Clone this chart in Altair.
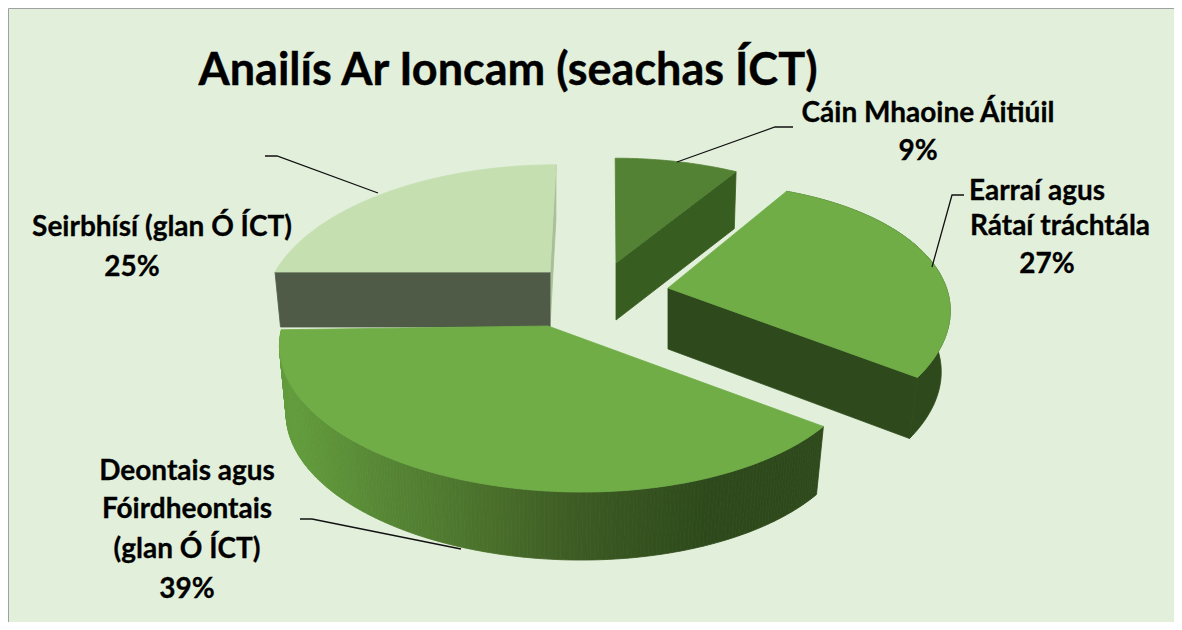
import math
import altair as alt
import pandas as pd

# ---- values
categories = ["Cáin Mhaoine Áitiúil", "Earraí agus Rátaí tráchtála", "Deontais agus Fóirdheontais (glan Ó ÍCT)", "Seirbhísí (glan Ó ÍCT)"]
shares = [9, 27, 39, 25]
title_text = "Anailís Ar Ioncam (seachas ÍCT)"
label_lines = ["Cáin Mhaoine Áitiúil", "9%", "Earraí agus", "Rátaí tráchtála", "27%",
               "Seirbhísí (glan Ó ÍCT)", "25%", "Deontais agus", "Fóirdheontais", "(glan Ó ÍCT)", "39%"]

# ---- layout / style
label_cx = [928, 918, 1037, 1060, 1047, 162, 132, 187, 187, 187, 187]
label_cy = [114, 152, 192, 227, 265, 228, 268, 472, 510, 550, 590]
BG = "#E2EFDA"
# perspective of each exploded slice: centre, axes, shear, tilt, depth
persp = {
    0: dict(cx=616, cy=263, a=273, b=131, k=.25, m=0, r=0, s=1, d=57, sc=.985, fill="#548235", cut="#385D20"),
    1: dict(cx=668, cy=288, a=264, b=129, k=.25, m=.033, r=-12, s=0, d=61, sc=.968, fill="#70AD47", cut="#2E4A1C"),
    2: dict(cx=548, cy=326, a=285, b=136, k=.18, m=.069, r=-4, s=15, d=68, sc=.975, fill="#70AD47", cut="#2E4A1C"),
    3: dict(cx=550, cy=272, a=275, b=134, k=.25, m=0, r=0, s=-7.5, d=55, sc=.98, fill="#C5DFB1", cut="#4F5A47"),
}
stops = [(292, (0x62, 0x9C, 0x3C)), (343, (0x5C, 0x90, 0x38)), (415, (0x53, 0x80, 0x33)), (488, (0x4A, 0x70, 0x2B)),
         (561, (0x3F, 0x5E, 0x25)), (634, (0x36, 0x53, 0x20)), (706, (0x2E, 0x4A, 0x1C))]


def side_colour(x):
    if x <= stops[0][0]:
        c = stops[0][1]
    elif x >= stops[-1][0]:
        c = stops[-1][1]
    else:
        for (x0, c0), (x1, c1) in zip(stops, stops[1:]):
            if x0 <= x <= x1:
                t = (x - x0) / (x1 - x0)
                c = tuple(c0[i] + t * (c1[i] - c0[i]) for i in range(3))
                break
    return "#%02X%02X%02X" % tuple(int(round(v)) for v in c)


def proj(p, phi, rad=1.0, bottom=False):
    X, Y = rad * math.sin(phi), -rad * math.cos(phi)
    D = 1 - p["k"] * Y - p["m"] * X
    sc = p["sc"] if bottom else 1
    x = p["cx"] + sc * (p["a"] * X + p["s"] * Y) / D
    y = p["cy"] + (p["b"] * Y + p["r"] * X) / D + (p["d"] if bottom else 0)
    return x, y


rows, pid = [], [0]


def add_poly(pts, fill):
    for i, (x, y) in enumerate(list(pts) + [pts[0]]):
        rows.append(dict(poly=pid[0], i=i, x=x, y=y, fill=fill))
    pid[0] += 1


# slice angles from the shares, clockwise from twelve o'clock
ang = {}
acc = 0
for idx, v in enumerate(shares):
    ang[idx] = (acc / 100 * 2 * math.pi, (acc + v) / 100 * 2 * math.pi)
    acc += v


def arc(p, a0, a1, bottom=False, n=90):
    return [proj(p, a0 + (a1 - a0) * j / n, 1.0, bottom) for j in range(n + 1)]


# Seirbhísí
p = persp[3]; a0, a1 = ang[3]
add_poly([proj(p, a1), proj(p, a1, 1, True), proj(p, 0, 0, True), proj(p, 0, 0)], "#A8BF98")
add_poly([proj(p, a0), proj(p, 0, 0), proj(p, 0, 0, True), proj(p, a0, 1, True)], p["cut"])
add_poly(arc(p, a0, a1) + [proj(p, 0, 0)], p["fill"])
# Cáin Mhaoine
p = persp[0]; a0, a1 = ang[0]
add_poly([proj(p, 0, 0), proj(p, a1), proj(p, a1, 1, True), proj(p, 0, 0, True)], p["cut"])
add_poly(arc(p, a0, a1) + [proj(p, 0, 0)], p["fill"])
# Earraí
p = persp[1]; a0, a1 = ang[1]
top = arc(p, a0, a1); bot = arc(p, a0, a1, True)
add_poly(top + bot[::-1], p["cut"])
add_poly([proj(p, 0, 0), proj(p, a1), proj(p, a1, 1, True), proj(p, 0, 0, True)], p["cut"])
add_poly(top + [proj(p, 0, 0)], p["fill"])
# Deontais: shaded rim in strips, then the face
p = persp[2]; a0, a1 = ang[2]
N = 200
top = arc(p, a0, a1, n=N); bot = arc(p, a0, a1, True, n=N)
for j in range(N):
    q = [top[j], top[j + 1], bot[j + 1], bot[j]]
    add_poly(q, side_colour(sum(pt[0] for pt in q) / 4))
add_poly(top + [proj(p, 0, 0)], p["fill"])

polys = pd.DataFrame(rows)

leaders = pd.DataFrame([
    dict(l=0, i=0, x=677, y=162), dict(l=0, i=1, x=775, y=127), dict(l=0, i=2, x=793, y=127),
    dict(l=1, i=0, x=932, y=267), dict(l=1, i=1, x=952, y=195), dict(l=1, i=2, x=964, y=195),
    dict(l=2, i=0, x=378, y=193), dict(l=2, i=1, x=277, y=156), dict(l=2, i=2, x=265, y=156),
    dict(l=3, i=0, x=461, y=549), dict(l=3, i=1, x=312, y=519), dict(l=3, i=2, x=300, y=519),
])
labels = pd.DataFrame(dict(t=label_lines, x=label_cx, y=label_cy))
border = pd.DataFrame(dict(i=[0, 1, 2], x=[8.5, 8.5, 1174], y=[622, 8.5, 8.5]))
title_df = pd.DataFrame(dict(t=[title_text], x=[508], y=[71]))

X = alt.X("x:Q", scale=alt.Scale(domain=[8, 1174]), axis=None)
Y = alt.Y("y:Q", scale=alt.Scale(domain=[622, 8]), axis=None)

pie = alt.Chart(polys).mark_line(strokeWidth=0.8, strokeJoin="round").encode(
    x=X, y=Y, order="i:Q", detail="poly:N",
    fill=alt.Fill("fill:N", scale=None), stroke=alt.Stroke("fill:N", scale=None))
lead = alt.Chart(leaders).mark_line(color="#111111", strokeWidth=1.3).encode(x=X, y=Y, order="i:Q", detail="l:N")
frame = alt.Chart(border).mark_line(color="#A0A0A0", strokeWidth=1).encode(x=X, y=Y, order="i:Q")
text = alt.Chart(labels).mark_text(font="Lato", fontWeight="bold", fontSize=28, color="#000000", stroke="#000000", strokeWidth=0.3, baseline="middle", align="center").encode(x=X, y=Y, text="t:N")
title = alt.Chart(title_df).mark_text(font="Lato", fontWeight="bold", fontSize=45, color="#000000", stroke="#000000", strokeWidth=0.4, baseline="middle", align="center").encode(x=X, y=Y, text="t:N")

chart = alt.layer(frame, pie, lead, text, title).properties(
    width=1166, height=614, background=BG, padding=0,
    autosize=alt.AutoSizeParams(type="none"),
).configure_view(stroke=None)

chart.save("out.html", embed_options={"renderer": "svg", "actions": False})
